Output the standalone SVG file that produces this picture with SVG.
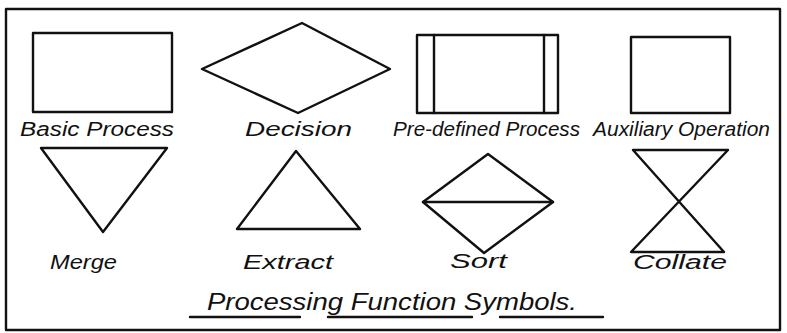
<svg xmlns="http://www.w3.org/2000/svg" width="787" height="333" viewBox="0 0 787 333">
<style>
.s{fill:none;stroke:#111;stroke-width:2.4;stroke-linejoin:round;stroke-linecap:round}
.t{font-family:"Liberation Sans","DejaVu Sans",sans-serif;font-style:italic;font-size:20px;fill:#111}
.h{font-family:"Liberation Sans","DejaVu Sans",sans-serif;font-style:italic;font-size:23px;fill:#111}
</style>
<rect width="787" height="333" fill="#fff"/>
<rect class="s" x="6" y="9" width="774" height="321" stroke-width="2"/>
<g id="basic-process">
<rect class="s" x="33" y="33" width="139" height="79"/>
<text class="t" x="20" y="136" textLength="154" lengthAdjust="spacingAndGlyphs">Basic Process</text>
</g>
<g id="decision">
<polygon class="s" points="202,69 302,23 390,69 298,113"/>
<text class="t" x="245" y="136" textLength="107" lengthAdjust="spacingAndGlyphs">Decision</text>
</g>
<g id="predefined-process">
<rect class="s" x="417" y="35" width="141" height="78"/>
<line class="s" x1="434" y1="35" x2="434" y2="113"/>
<line class="s" x1="544" y1="35" x2="544" y2="113"/>
<text class="t" x="393" y="136" textLength="187" lengthAdjust="spacingAndGlyphs">Pre-defined Process</text>
</g>
<g id="auxiliary-operation">
<rect class="s" x="631" y="37" width="99" height="76"/>
<text class="t" x="593" y="136" textLength="177" lengthAdjust="spacingAndGlyphs">Auxiliary Operation</text>
</g>
<g id="merge">
<polygon class="s" points="41,148 167,148 103,232"/>
<text class="t" x="50" y="269" textLength="67" lengthAdjust="spacingAndGlyphs">Merge</text>
</g>
<g id="extract">
<polygon class="s" points="296,151 360,229 237,229"/>
<text class="t" x="243" y="269" textLength="90" lengthAdjust="spacingAndGlyphs">Extract</text>
</g>
<g id="sort">
<polygon class="s" points="488,154 553,202 484,253 423,202"/>
<line class="s" x1="423" y1="202" x2="553" y2="202"/>
<text class="t" x="450" y="268" textLength="57" lengthAdjust="spacingAndGlyphs">Sort</text>
</g>
<g id="collate">
<path class="s" d="M633,150 L728,150 L631,252 L724,252 Z"/>
<text class="t" x="633" y="269" textLength="94" lengthAdjust="spacingAndGlyphs">Collate</text>
</g>
<g id="title">
<text class="h" x="207" y="310" textLength="370" lengthAdjust="spacingAndGlyphs">Processing Function Symbols.</text>
<path class="s" d="M190,317 L300,317 M328,317 L472,317 M500,317 L603,317" stroke-width="2"/>
</g>
</svg>
